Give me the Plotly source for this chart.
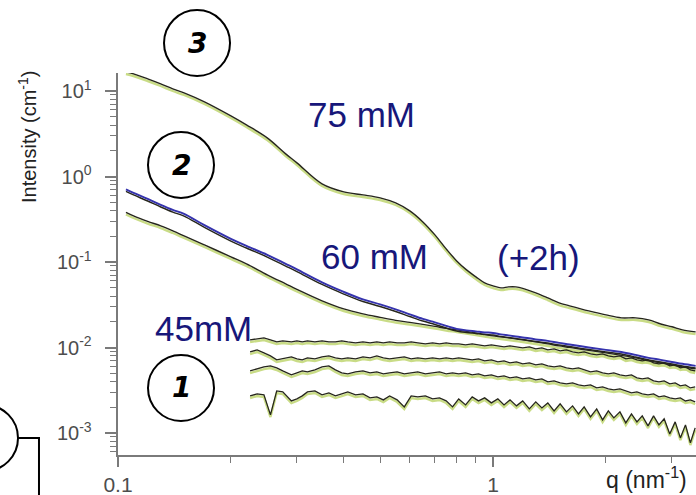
import plotly.graph_objects as go

# ---- scattering curves (q in nm^-1, intensity in cm^-1) ----
Q_SMOOTH = [0.105, 0.11, 0.12, 0.13, 0.14, 0.15, 0.17, 0.2, 0.22, 0.25,
            0.28, 0.3, 0.35, 0.4, 0.45, 0.5, 0.55, 0.6, 0.65, 0.7,
            0.75, 0.8, 0.85, 0.9, 0.95, 1.0, 1.05, 1.1, 1.15, 1.2,
            1.3, 1.4, 1.5, 1.6, 1.8, 2.0, 2.2, 2.4, 2.6, 2.8,
            3.0, 3.2, 3.47]

I_75MM = [15.81, 14.98, 13.09, 11.44, 10.0, 8.98, 7.05, 4.83, 3.79, 2.67,
          1.737, 1.363, 0.774, 0.624, 0.576, 0.531, 0.464, 0.374, 0.278, 0.196,
          0.1345, 0.0973, 0.0764, 0.0633, 0.0538, 0.0497, 0.0470, 0.0483, 0.0483, 0.0465,
          0.0411, 0.0359, 0.0314, 0.0290, 0.0253, 0.0227, 0.0210, 0.0210, 0.0199, 0.0178,
          0.0165, 0.0152, 0.0144]

I_60MM = [0.668, 0.608, 0.517, 0.440, 0.384, 0.345, 0.2545, 0.176, 0.1458, 0.1144,
          0.0898, 0.0774, 0.0546, 0.0422, 0.0345, 0.0302, 0.0264, 0.02305, 0.0204, 0.0186,
          0.0169, 0.0156, 0.01498, 0.01458, 0.01419, 0.0140, 0.01345, 0.01309, 0.01274, 0.0124,
          0.01175, 0.01129, 0.0107, 0.01027, 0.00947, 0.00886, 0.00839, 0.00774, 0.00714, 0.00677,
          0.00641, 0.00608, 0.00576]

I_45MM = [0.3594, 0.327, 0.2819, 0.2498, 0.2184, 0.1909, 0.1498, 0.1084, 0.0898, 0.0668,
          0.0524, 0.0452, 0.0332, 0.02673, 0.02336, 0.02126, 0.0196, 0.01858, 0.0176, 0.01669,
          0.0158, 0.01518, 0.01458, 0.0140, 0.01345, 0.01292, 0.01258, 0.01224, 0.01191, 0.01159,
          0.01099, 0.01041, 0.00987, 0.00947, 0.00874, 0.00817, 0.00764, 0.00714, 0.00659, 0.00624,
          0.00591, 0.0056, 0.00531]

Q_NOISY = [0.225, 0.235, 0.245, 0.255, 0.265, 0.275, 0.29, 0.30, 0.31, 0.32,
           0.335, 0.35, 0.365, 0.38, 0.395, 0.41, 0.43, 0.45, 0.47, 0.49,
           0.51, 0.53, 0.555, 0.58, 0.605, 0.63, 0.66, 0.69, 0.72, 0.75,
           0.78, 0.81, 0.845, 0.88, 0.915, 0.95, 0.99, 1.03, 1.07, 1.11,
           1.155, 1.2, 1.25, 1.3, 1.35, 1.4, 1.455, 1.51, 1.57, 1.63,
           1.69, 1.75, 1.82, 1.89, 1.96, 2.03, 2.10, 2.18, 2.26, 2.34,
           2.42, 2.50, 2.59, 2.68, 2.77, 2.86, 2.96, 3.06, 3.16, 3.26,
           3.36, 3.46]

I_DIL_1 = [0.01160, 0.01191, 0.01224, 0.01160, 0.01099, 0.01129, 0.01099, 0.01129, 0.01099, 0.01129,
           0.01099, 0.01129, 0.01099, 0.01099, 0.01129, 0.01099, 0.01070, 0.01099, 0.01070, 0.01099,
           0.01070, 0.01099, 0.01070, 0.01070, 0.01099, 0.01070, 0.01041, 0.01070, 0.01041, 0.01070,
           0.01041, 0.01041, 0.01014, 0.01041, 0.01014, 0.00987, 0.01014, 0.00987, 0.00960, 0.00987,
           0.00960, 0.00935, 0.00960, 0.00910, 0.00935, 0.00886, 0.00910, 0.00862, 0.00886, 0.00839,
           0.00817, 0.00839, 0.00795, 0.00774, 0.00795, 0.00754, 0.00734, 0.00754, 0.00695, 0.00714,
           0.00677, 0.00659, 0.00677, 0.00624, 0.00608, 0.00624, 0.00576, 0.00591, 0.00546, 0.00560,
           0.00517, 0.00503]

I_DIL_2 = [0.00839, 0.00886, 0.00817, 0.00754, 0.00677, 0.00695, 0.00734, 0.00695, 0.00677, 0.00714,
           0.00695, 0.00734, 0.00754, 0.00714, 0.00695, 0.00714, 0.00695, 0.00734, 0.00714, 0.00754,
           0.00714, 0.00695, 0.00714, 0.00734, 0.00695, 0.00714, 0.00695, 0.00714, 0.00695, 0.00714,
           0.00695, 0.00714, 0.00695, 0.00677, 0.00695, 0.00659, 0.00677, 0.00641, 0.00659, 0.00624,
           0.00641, 0.00608, 0.00624, 0.00591, 0.00608, 0.00576, 0.00560, 0.00576, 0.00546, 0.00531,
           0.00546, 0.00517, 0.00490, 0.00503, 0.00477, 0.00464, 0.00477, 0.00452, 0.00440, 0.00452,
           0.00417, 0.00406, 0.00417, 0.00384, 0.00374, 0.00384, 0.00355, 0.00364, 0.00336, 0.00345,
           0.00318, 0.00327]

I_DIL_3 = [0.00503, 0.00531, 0.00560, 0.00576, 0.00546, 0.00503, 0.00452, 0.00477, 0.00503, 0.00490,
           0.00517, 0.00560, 0.00576, 0.00517, 0.00477, 0.00464, 0.00490, 0.00503, 0.00477, 0.00490,
           0.00464, 0.00477, 0.00490, 0.00464, 0.00477, 0.00490, 0.00464, 0.00477, 0.00490, 0.00464,
           0.00477, 0.00464, 0.00477, 0.00452, 0.00464, 0.00440, 0.00452, 0.00428, 0.00440, 0.00417,
           0.00428, 0.00406, 0.00417, 0.00395, 0.00406, 0.00374, 0.00384, 0.00364, 0.00355, 0.00364,
           0.00345, 0.00336, 0.00345, 0.00318, 0.00327, 0.00310, 0.00302, 0.00310, 0.00294, 0.00278,
           0.00286, 0.00271, 0.00264, 0.00271, 0.00250, 0.00257, 0.00243, 0.00237, 0.00243, 0.00224,
           0.00230, 0.00218]

I_DIL_4 = [0.002567, 0.002708, 0.002637, 0.001539, 0.002936, 0.002858, 0.002243, 0.002367, 0.002567, 0.002858,
           0.002936, 0.002637, 0.002782, 0.002567, 0.002708, 0.002858, 0.002637, 0.002708, 0.002432, 0.002498,
           0.002304, 0.002567, 0.002304, 0.001909, 0.002567, 0.002498, 0.002567, 0.002367, 0.002432, 0.002243,
           0.001909, 0.002367, 0.002014, 0.002498, 0.002243, 0.002432, 0.002126, 0.002367, 0.002014, 0.002304,
           0.001961, 0.002243, 0.001809, 0.002184, 0.001858, 0.002126, 0.001714, 0.002069, 0.001668, 0.001961,
           0.001581, 0.001909, 0.001458, 0.001809, 0.001345, 0.001714, 0.001419, 0.001668, 0.001241, 0.001581,
           0.001274, 0.001498, 0.001144, 0.001498, 0.001176, 0.001382, 0.000922, 0.001274, 0.000828, 0.001176,
           0.000724, 0.001084]

X_TICKS = [0.1, 1]
X_TICKTEXT = ["0.1", "1"]
X_MINOR = [0.2, 0.3, 0.4, 0.5, 0.6, 0.7, 0.8, 0.9, 2, 3]
Y_TICKS = [1e-3, 1e-2, 1e-1, 1, 10]
Y_EXPONENTS = ["-3", "-2", "-1", "0", "1"]
# trailing non-breaking space keeps the labels clear of the tick marks
Y_TICKTEXT = ["10<sup>" + e + "</sup>\u00a0\u2009" for e in Y_EXPONENTS]
Y_MINOR = [m * 10.0 ** e for e in range(-4, 2) for m in range(2, 10)]

X_RANGE = [-1.0, 0.5413]
Y_RANGE = [-3.257, 1.2105]
LINE_OFFSET = 0.025  # dark data line drawn a hair above its pale fit line

GREEN = "#c9dc86"
DARK = "#26261c"
BLUE = "#3533ad"
NAVY = "#17177a"
AXIS_GREY = "#7a7a7a"
TICK_TEXT = "#4d4d4d"
FONT = "Liberation Sans, Arial, sans-serif"

fig = go.Figure()


def pair(q, i, under_color, under_w, top_color, top_w, shape="spline"):
    fig.add_trace(go.Scatter(x=q, y=i, mode="lines", yaxis="y",
                             line=dict(color=under_color, width=under_w, shape=shape),
                             hoverinfo="skip"))
    fig.add_trace(go.Scatter(x=q, y=i, mode="lines", yaxis="y2",
                             line=dict(color=top_color, width=top_w, shape=shape),
                             hoverinfo="skip"))


# smooth curves: pale fit + dark data
pair(Q_SMOOTH, I_75MM, GREEN, 2.4, DARK, 1.4)
pair(Q_SMOOTH, I_45MM, GREEN, 2.4, DARK, 1.4)
pair(Q_SMOOTH, I_60MM, DARK, 1.4, BLUE, 2.0)

# dilute samples (noisy)
for series in (I_DIL_1, I_DIL_2, I_DIL_3, I_DIL_4):
    pair(Q_NOISY, series, GREEN, 2.4, DARK, 1.3, shape="linear")

fig.update_layout(
    width=696, height=495,
    margin=dict(l=118, r=0, t=73, b=40),
    paper_bgcolor="white", plot_bgcolor="white",
    showlegend=False,
    font=dict(family=FONT, color=TICK_TEXT, size=20),
    xaxis=dict(type="log", range=X_RANGE, showgrid=False, zeroline=False,
               showline=True, linecolor=AXIS_GREY, linewidth=1.6,
               tickmode="array", tickvals=X_TICKS, ticktext=X_TICKTEXT,
               ticks="outside", ticklen=10, tickwidth=1.6, tickcolor=AXIS_GREY,
               tickfont=dict(family=FONT, size=21, color=TICK_TEXT),
               minor=dict(tickmode="array", tickvals=X_MINOR, ticks="outside",
                          ticklen=6, tickwidth=1.4, tickcolor=AXIS_GREY)),
    yaxis=dict(type="log", range=Y_RANGE, showgrid=False, zeroline=False,
               showline=True, linecolor=AXIS_GREY, linewidth=1.6,
               tickmode="array", tickvals=Y_TICKS, ticktext=Y_TICKTEXT,
               ticks="outside", ticklen=11, tickwidth=1.6, tickcolor=AXIS_GREY,
               tickfont=dict(family=FONT, size=20, color=TICK_TEXT),
               minor=dict(tickmode="array", tickvals=Y_MINOR, ticks="outside",
                          ticklen=6, tickwidth=1.3, tickcolor=AXIS_GREY)),
    yaxis2=dict(type="log", overlaying="y", visible=False,
                range=[Y_RANGE[0] - LINE_OFFSET, Y_RANGE[1] - LINE_OFFSET]),
)

# concentration labels, placed in log10 data coordinates
labels = [("75 mM", -0.352, 0.725), ("60 mM", -0.317, -0.936),
          ("(+2h)", 0.120, -0.953), ("45mM", -0.773, -1.778)]
for text, lx, ly in labels:
    fig.add_annotation(text=text, x=lx, y=ly, xref="x", yref="y", showarrow=False,
                       font=dict(family=FONT, size=35, color=NAVY),
                       xanchor="center", yanchor="middle")

# numbered circles
circles = [("3", 0.0796, 0.1938, 0.9921, 1.1649),
           ("2", 0.0519, 0.1661, 0.6728, 0.8455),
           ("1", 0.0519, 0.1661, 0.0890, 0.2618)]
for num, x0, x1, y0, y1 in circles:
    fig.add_shape(type="circle", xref="paper", yref="paper",
                  x0=x0, x1=x1, y0=y0, y1=y1, line=dict(color="black", width=2))
    fig.add_annotation(text="<b><i>" + num + "</i></b>", xref="paper", yref="paper",
                       x=(x0 + x1) / 2, y=(y0 + y1) / 2, showarrow=False,
                       font=dict(family="DejaVu Sans", size=28, color="black"),
                       xanchor="center", yanchor="middle")

# partial circle and connector at the lower left
fig.add_shape(type="circle", xref="paper", yref="paper",
              x0=-0.2872, x1=-0.1730, y0=-0.0419, y1=0.1309,
              line=dict(color="black", width=2))
fig.add_shape(type="path", xref="paper", yref="paper",
              path="M -0.1730 0.0445 L -0.1367 0.0445 L -0.1367 -0.1178",
              line=dict(color="black", width=2))

# axis titles
fig.add_annotation(text="Intensity (cm<sup>-1</sup>)", xref="paper", yref="paper",
                   x=-0.1557, y=0.8325, textangle=-90, showarrow=False,
                   font=dict(family=FONT, size=20, color="#222222"),
                   xanchor="center", yanchor="middle")
fig.add_annotation(text="q (nm<sup>-1</sup>)", xref="paper", yref="paper",
                   x=0.9135, y=-0.0602, showarrow=False,
                   font=dict(family=FONT, size=23, color="#222222"),
                   xanchor="center", yanchor="middle")

fig.write_html("out.html")
